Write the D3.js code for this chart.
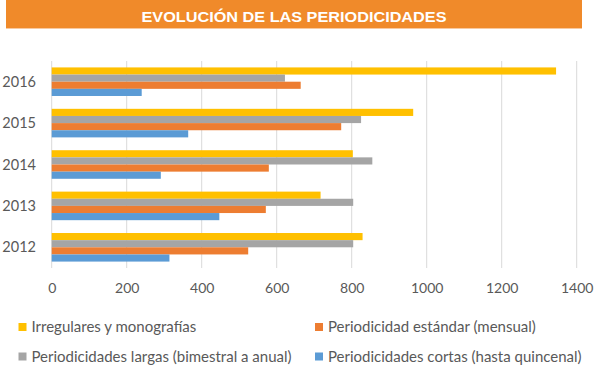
<!DOCTYPE html>
<html>
<head>
<meta charset="utf-8">
<script src="https://cdn.jsdelivr.net/npm/d3@7"></script>
<style>
  body { margin: 0; background: #fff; }
  svg { display: block; font-family: Lato, "Open Sans", sans-serif; }
</style>
</head>
<body>
<script>
    var years = ["2016", "2015", "2014", "2013", "2012"];
    var seriesNames = [
        "Irregulares y monografías",
        "Periodicidades largas (bimestral a anual)",
        "Periodicidad estándar (mensual)",
        "Periodicidades cortas (hasta quincenal)"
    ];
    // values per year, same order as years
    var irregulares = [1345, 964, 803, 717, 829];
    var largas = [622, 825, 855, 804, 804];
    var estandar = [664, 772, 579, 571, 524];
    var cortas = [240, 364, 291, 447, 314];
    var xTicks = [0, 200, 400, 600, 800, 1000, 1200, 1400];

    var colors = ["#FFC000", "#A5A5A5", "#ED7D31", "#5B9BD5"];
    var seriesValues = [irregulares, largas, estandar, cortas];

    var w = 600, h = 372;
    var svg = d3.select("body").append("svg")
        .attr("width", w)
        .attr("height", h);

    // title banner
    svg.append("rect")
        .attr("x", 6).attr("y", 0)
        .attr("width", 576).attr("height", 28)
        .attr("fill", "#F08A2A");
    svg.append("rect")
        .attr("x", 6).attr("y", 28)
        .attr("width", 576).attr("height", 1)
        .attr("fill", "#F8C9A0");
    svg.append("text")
        .attr("x", 294).attr("y", 21.5)
        .attr("text-anchor", "middle")
        .attr("fill", "#fff")
        .attr("font-family", "'Liberation Sans', Arial, sans-serif")
        .attr("font-weight", "bold")
        .attr("font-size", 15)
        .attr("textLength", 305)
        .attr("lengthAdjust", "spacingAndGlyphs")
        .text("EVOLUCIÓN DE LAS PERIODICIDADES");

    var plotTop = 61, plotBottom = 268, plotLeft = 51.7;
    var x = d3.scaleLinear().domain([0, 1400]).range([plotLeft, plotLeft + 1400 * 0.375]);
    var y = d3.scaleBand().domain(years).range([plotTop, plotBottom])
        .paddingInner(0.31).paddingOuter(0.155);
    var inner = d3.scaleBand().domain(d3.range(seriesNames.length))
        .range([0, y.bandwidth()]);

    // gridlines
    svg.append("g").selectAll("line")
        .data(xTicks)
        .enter().append("line")
        .attr("x1", function (d) { return x(d); })
        .attr("x2", function (d) { return x(d); })
        .attr("y1", plotTop).attr("y2", plotBottom)
        .attr("stroke", "#D9D9D9")
        .attr("stroke-width", 1);

    // bars
    var groups = svg.append("g").selectAll("g")
        .data(years)
        .enter().append("g")
        .attr("transform", function (d) { return "translate(0," + y(d) + ")"; });

    groups.selectAll("rect")
        .data(function (d, i) {
            return seriesValues.map(function (s, k) { return { k: k, v: s[i] }; });
        })
        .enter().append("rect")
        .attr("x", x(0))
        .attr("y", function (d) { return inner(d.k); })
        .attr("height", inner.bandwidth())
        .attr("width", function (d) { return x(d.v) - x(0); })
        .attr("fill", function (d) { return colors[d.k]; });

    // year labels
    svg.append("g").selectAll("text")
        .data(years)
        .enter().append("text")
        .attr("x", 36)
        .attr("y", function (d) { return y(d) + y.bandwidth() / 2 + 5; })
        .attr("text-anchor", "end")
        .attr("font-size", 14.5)
        .attr("fill", "#595959")
        .text(function (d) { return d; });

    // x axis labels
    var xAxis = d3.axisBottom(x).tickValues(xTicks).tickSize(0).tickPadding(0)
        .tickFormat(d3.format("d"));
    var ax = svg.append("g")
        .attr("transform", "translate(0,283)")
        .call(xAxis);
    ax.select(".domain").remove();
    ax.selectAll("text")
        .attr("font-size", 14)
        .attr("font-family", "Lato, sans-serif")
        .attr("fill", "#595959");

    // legend (two columns)
    var legendOrder = [0, 2, 1, 3];
    var legend = svg.append("g").selectAll("g")
        .data(legendOrder)
        .enter().append("g")
        .attr("transform", function (d, i) {
            var col = i % 2, row = Math.floor(i / 2);
            return "translate(" + (col === 0 ? 18.5 : 315) + "," + (323 + row * 29.5) + ")";
        });
    legend.append("rect")
        .attr("width", 8).attr("height", 8)
        .attr("fill", function (d) { return colors[d]; });
    legend.append("text")
        .attr("x", 13).attr("y", 9)
        .attr("font-size", 15)
        .attr("fill", "#595959")
        .text(function (d) { return seriesNames[d]; });
</script>
</body>
</html>
